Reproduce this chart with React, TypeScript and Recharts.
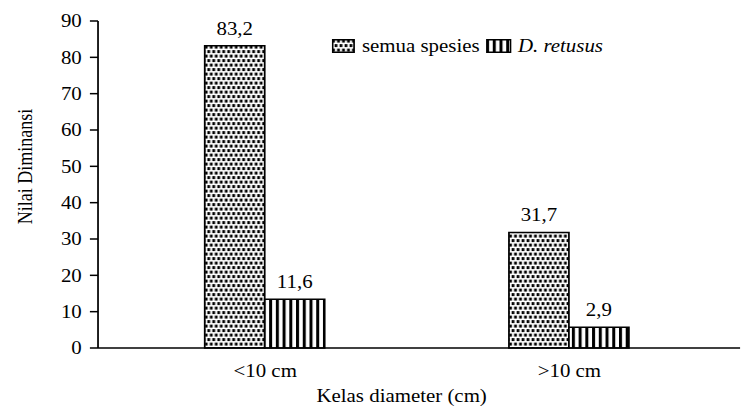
import { BarChart, Bar, XAxis, YAxis, LabelList } from 'recharts'

document.body.style.margin = '0'

const categories = ['<10 cm', '>10 cm']
// bar heights as drawn in the figure
const semuaSpesies = [83.2, 31.8]
const dRetusus = [13.4, 5.7]
// value labels as printed above the bars
const semuaLabels = ['83,2', '31,7']
const retususLabels = ['11,6', '2,9']
const yTicks = [0, 10, 20, 30, 40, 50, 60, 70, 80, 90]

const data = categories.map((c, i) => ({
  kelas: c,
  semua: semuaSpesies[i],
  retusus: dRetusus[i],
  semuaLabel: semuaLabels[i],
  retususLabel: retususLabels[i],
}))

// the original figure is stretched horizontally, text included
const stretch = 1.16
const W = 643
const H = 412
const font = "'Liberation Serif', 'Times New Roman', serif"
const fs = 18

function LegendBox() {
  return (
    <div
      style={{
        position: 'absolute',
        top: 36,
        left: 286,
        display: 'flex',
        alignItems: 'center',
        fontFamily: font,
        fontSize: fs,
        color: '#000',
        whiteSpace: 'nowrap',
        lineHeight: '20px',
      }}
    >
      <svg width={20} height={14} style={{ marginRight: 6 }}>
        <rect x={0.75} y={0.75} width={18.5} height={12.5} fill="url(#dots)" stroke="#000" strokeWidth={1.5} />
      </svg>
      <span style={{ marginRight: 6 }}>semua spesies</span>
      <svg width={22} height={14} style={{ marginRight: 5 }}>
        <rect x={0.75} y={0.75} width={20.5} height={12.5} fill="url(#stripes)" stroke="#000" strokeWidth={1.5} />
      </svg>
      <span style={{ fontStyle: 'italic' }}>D. retusus</span>
    </div>
  )
}

export default function App() {
  return (
    <div style={{ width: 746, height: H, overflow: 'hidden', background: '#fff' }}>
      <div style={{ position: 'relative', width: W, height: H, transform: `scaleX(${stretch})`, transformOrigin: '0 0', fontFamily: font }}>
        <BarChart
          width={W}
          height={H}
          data={data}
          margin={{ top: 21, right: 5, bottom: 0, left: 0 }}
          barSize={51.7}
          barGap={0}
          style={{ fontFamily: font }}
        >
          <defs>
            <pattern id="dots" width="4.3" height="9" patternUnits="userSpaceOnUse">
              <rect width="4.3" height="9" fill="#fff" />
              <rect x="0.3" y="0.6" width="2.4" height="3" fill="#000" />
              <rect x="2.45" y="5.1" width="2.4" height="3" fill="#000" />
              <rect x="-1.85" y="5.1" width="2.4" height="3" fill="#000" />
            </pattern>
            <pattern id="stripes" width="5.8" height="6" patternUnits="userSpaceOnUse">
              <rect width="5.8" height="6" fill="#fff" />
              <rect x="0" y="0" width="2.6" height="6" fill="#000" />
            </pattern>
          </defs>
          <XAxis
            dataKey="kelas"
            padding={{ left: 13, right: 16 }}
            height={64}
            axisLine={{ stroke: '#000', strokeWidth: 1.5 }}
            tickLine={false}
            tickSize={0}
            tickMargin={16}
            fontSize={fs}
            fontFamily={font}
            tick={{ fill: '#000', fontSize: fs, fontFamily: font }}
            label={{
              value: 'Kelas diameter (cm)',
              position: 'insideBottom',
              offset: 10,
              dx: -15,
              fill: '#000',
              fontSize: fs,
              fontFamily: font,
            }}
          />
          <YAxis
            width={84.5}
            domain={[0, 90]}
            ticks={yTicks}
            interval={0}
            axisLine={{ stroke: '#000', strokeWidth: 1.5 }}
            tickLine={{ stroke: '#000', strokeWidth: 1.5 }}
            tickSize={7}
            tickMargin={7}
            fontSize={fs}
            fontFamily={font}
            tick={{ fill: '#000', fontSize: fs, fontFamily: font }}
            label={{
              value: 'Nilai Diminansi',
              angle: -90,
              position: 'insideLeft',
              offset: 0,
              dx: 21,
              dy: -18,
              textAnchor: 'middle',
              fill: '#000',
              fontSize: fs,
              fontFamily: font,
            }}
          />
          <Bar dataKey="semua" name="semua spesies" fill="url(#dots)" stroke="#000" strokeWidth={1.5} isAnimationActive={false}>
            <LabelList dataKey="semuaLabel" position="top" offset={11} fill="#000" fontSize={fs} fontFamily={font} />
          </Bar>
          <Bar dataKey="retusus" name="D. retusus" fill="url(#stripes)" stroke="#000" strokeWidth={1.5} isAnimationActive={false}>
            <LabelList dataKey="retususLabel" position="top" offset={11} fill="#000" fontSize={fs} fontFamily={font} />
          </Bar>
        </BarChart>
        <LegendBox />
      </div>
    </div>
  )
}
